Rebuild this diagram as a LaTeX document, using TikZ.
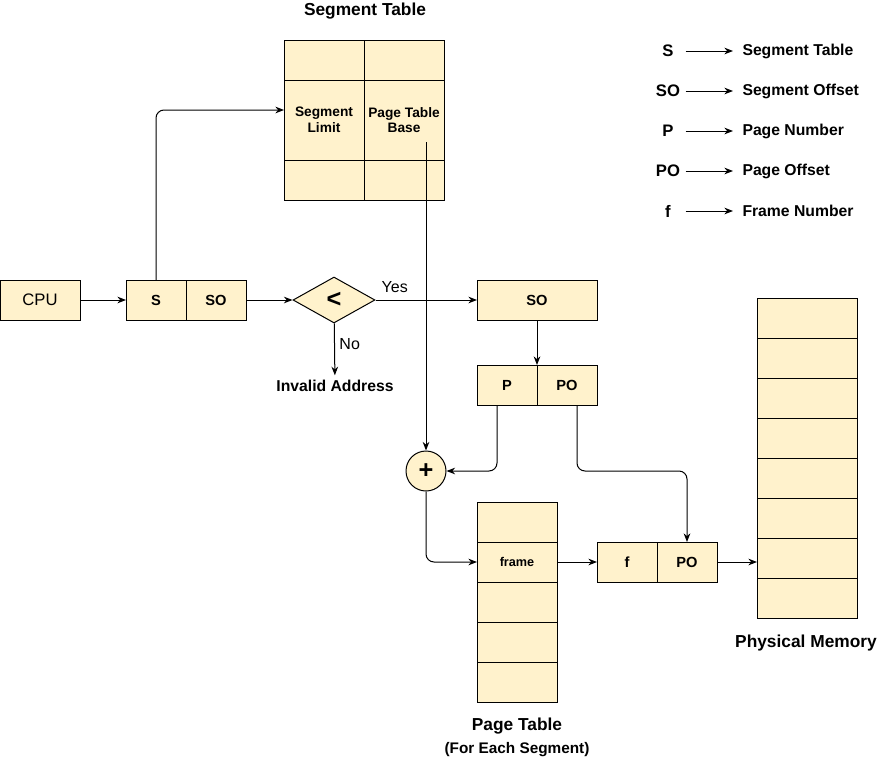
\documentclass[tikz,border=0pt]{standalone}
\usepackage{fontspec}
\setmainfont{Liberation Sans}
\usetikzlibrary{arrows.meta,positioning,shapes.geometric}
\definecolor{cellfill}{HTML}{FFF2CC}

\begin{document}
\begin{tikzpicture}[x=0.75pt,y=-0.75pt,>={Stealth[length=6.5pt,width=5pt]},line width=0.75pt,
  cell/.style={draw,fill=cellfill,outer sep=0pt,inner sep=0pt,minimum width=45pt,minimum height=30pt,font=\bfseries\fontsize{11}{13}\selectfont},
  title/.style={font=\bfseries\fontsize{13}{15}\selectfont},
  plain/.style={font=\fontsize{12}{14}\selectfont},
  key/.style={font=\bfseries\fontsize{12.5}{15}\selectfont,inner sep=0pt,minimum width=25.5pt},
  keytext/.style={anchor=west,inner xsep=6.75pt,inner ysep=0pt,font=\bfseries\fontsize{11.8}{14}\selectfont}]
\useasboundingbox (0,0) rectangle (886,761);
% segment table
\node[title] (sttitle) at (365,11) {Segment Table};
\node[cell,minimum width=60pt] (st11) at (324,60) {};
\node[cell,minimum width=60pt,right=0pt of st11] (st12) {};
\node[cell,minimum width=60pt,minimum height=60pt,below=0pt of st11,align=center,font=\bfseries\fontsize{10.3}{11.75}\selectfont] (st21) {Segment\\Limit};
\node[cell,minimum width=60pt,minimum height=60pt,right=0pt of st21,align=center,font=\bfseries\fontsize{10.3}{11.75}\selectfont] (st22) {Page Table\\Base};
\node[cell,minimum width=60pt,below=0pt of st21] (st31) {};
\node[cell,minimum width=60pt,right=0pt of st31] (st32) {};
\coordinate (ptbase) at (426,142);
% legend
\node[key] (k1) at (668,51) {S};
\node[keytext] (t1) at (733,51) {Segment Table};
\node[key] (k2) at (668,91) {SO};
\node[keytext] (t2) at (733,91) {Segment Offset};
\node[key] (k3) at (668,131) {P};
\node[keytext] (t3) at (733,131) {Page Number};
\node[key] (k4) at (668,171) {PO};
\node[keytext] (t4) at (733,171) {Page Offset};
\node[key] (k5) at (668,211) {f};
\node[keytext] (t5) at (733,211) {Frame Number};
\foreach \i in {1,...,5} \draw[->] (k\i.east) -- (t\i.west);
% address path
\node[cell,minimum width=60pt,font=\fontsize{12.5}{14}\selectfont] (cpu) at (40,300) {CPU};
\node[cell] (s) at (156,300) {S};
\node[cell,right=0pt of s] (so) {SO};
\node[draw,fill=cellfill,diamond,inner sep=0pt,minimum width=61.5pt,minimum height=34.5pt,font=\bfseries\fontsize{19}{19}\selectfont] (cmp) at (334,300) {<};
\node[title,font=\bfseries\fontsize{11.8}{14}\selectfont] (inval) at (335,386) {Invalid Address};
\node[cell,minimum width=90pt] (so2) at (537,300) {SO};
\node[cell] (p) at (507,385) {P};
\node[cell,right=0pt of p] (po) {PO};
\node[draw,fill=cellfill,circle,inner sep=0pt,minimum size=30pt,font=\bfseries\fontsize{19}{19}\selectfont] (plus) at (426,471) {+};
% page table
\node[cell,minimum width=60pt] (pt1) at (517,522) {};
\node[cell,minimum width=60pt,below=0pt of pt1,font=\bfseries\fontsize{9.5}{11}\selectfont] (pt2) {frame};
\node[cell,minimum width=60pt,below=0pt of pt2] (pt3) {};
\node[cell,minimum width=60pt,below=0pt of pt3] (pt4) {};
\node[cell,minimum width=60pt,below=0pt of pt4] (pt5) {};
\node[title] (pttitle) at (517,726) {Page Table};
\node[title,font=\bfseries\fontsize{11.5}{14}\selectfont] (ptsub) at (517,750) {(For Each Segment)};
\node[cell] (f) at (627,562) {f};
\node[cell,right=0pt of f] (fpo) {PO};
% physical memory
\foreach \i in {1,...,8}
  \node[cell,minimum width=75pt] (mem\i) at (807,{278+40*\i}) {};
\node[title] (pmtitle) at (806,643) {Physical Memory};
% connectors
\draw[->] (cpu) -- (s);
\draw[->,rounded corners=6pt] (s.north) |- ([yshift=7.5pt]st21.west);
\draw[->] (so) -- (cmp);
\draw[->] (cmp) -- node[plain,pos=0.19,above,inner sep=5pt] {Yes} (so2);
\draw[->] (cmp) -- node[plain,pos=0.4,right] {No} (inval);
\draw[->] (so2.south) -- (p.north east);
\draw[->] (ptbase) -- (plus.north);
\draw[->,rounded corners=6pt] ([xshift=-7.5pt]p.south) |- (plus.east);
\draw[->,rounded corners=6pt] ([xshift=7.5pt]po.south) |- (plus -| fpo) -- (fpo.north);
\draw[->,rounded corners=6pt] (plus.south) |- (pt2.west);
\draw[->] (pt2) -- (f);
\draw[->] (fpo) -- (fpo -| mem1.west);
\end{tikzpicture}
\end{document}
